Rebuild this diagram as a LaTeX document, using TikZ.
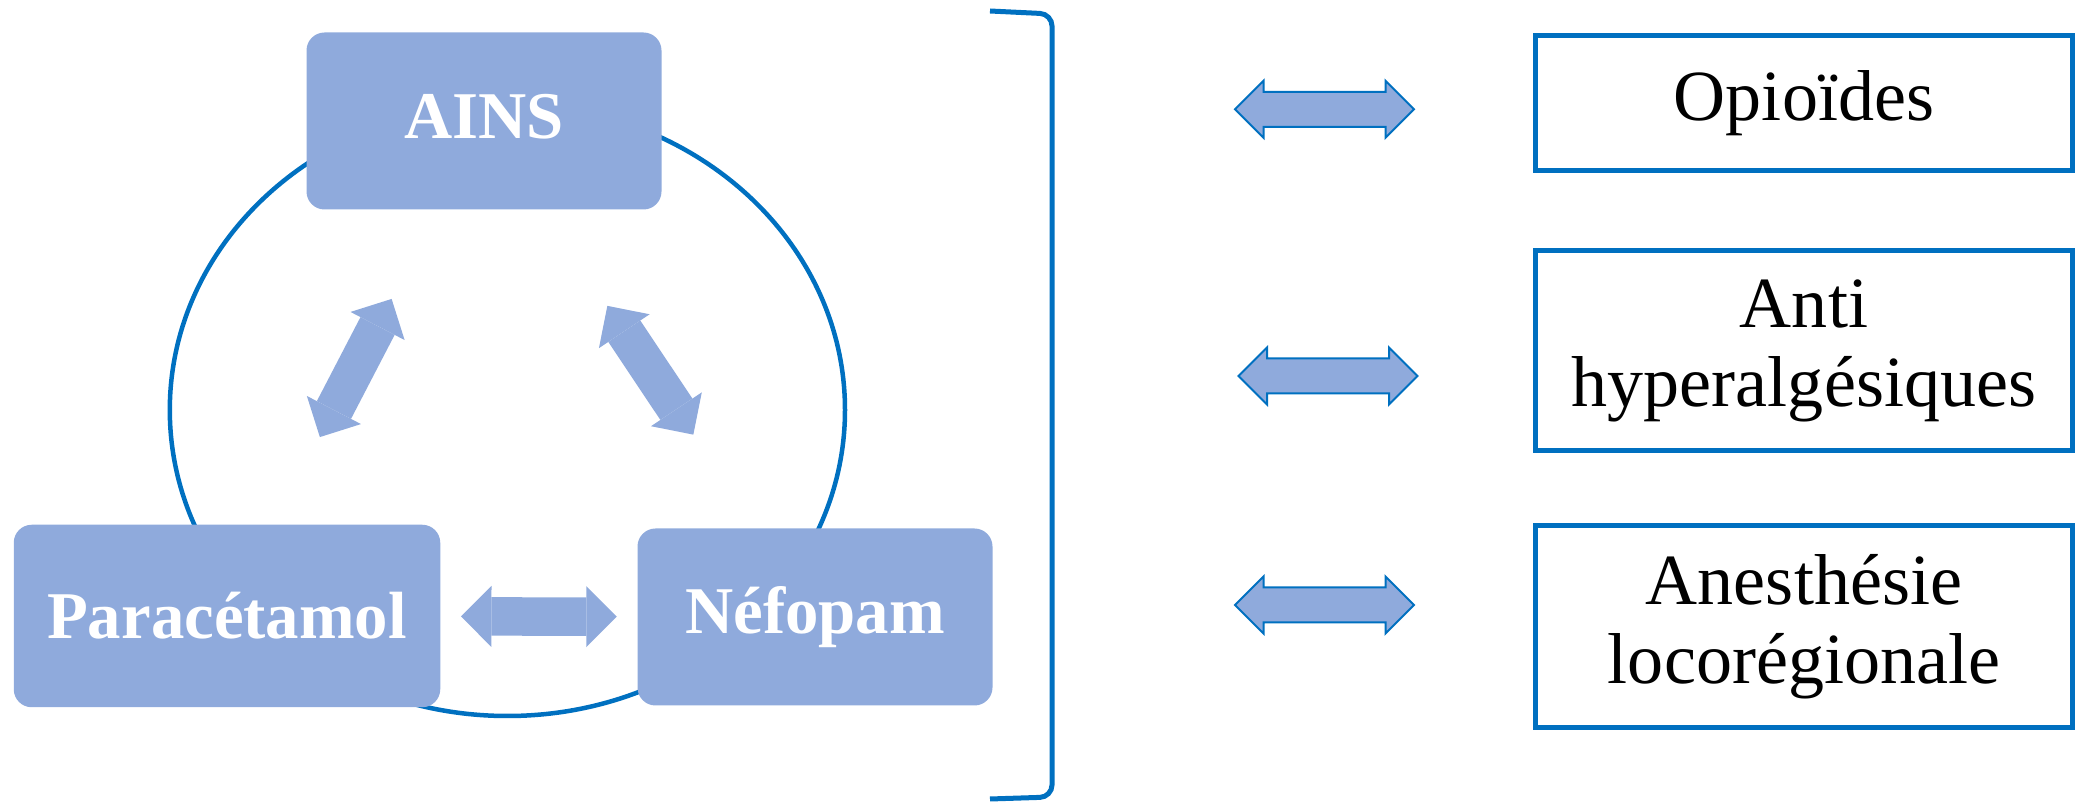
\documentclass[tikz,border=0pt]{standalone}
\usepackage{fontspec}
\setmainfont{Liberation Serif}
\newfontfamily\drugfont{Liberation Serif}
\usepackage{xcolor}
\usetikzlibrary{positioning, arrows.meta, shapes.arrows}
\definecolor{drugfill}{HTML}{8FAADC}
\definecolor{edgeblue}{HTML}{0070C0}

\begin{document}
\begin{tikzpicture}[
    drug/.style={rectangle, fill=drugfill, text=white, rounded corners=0.18cm,
                 minimum width=3.55cm, minimum height=1.77cm, align=center,
                 font=\drugfont\bfseries\fontsize{19}{22}\selectfont},
    adjuvant/.style={rectangle, draw=edgeblue, line width=0.05cm, fill=white,
                 minimum width=5.375cm, align=center,
                 font=\fontsize{20.5}{22.5}\selectfont},
    link/.style={drugfill, line width=0.385cm,
                 {Triangle[width=0.61cm, length=0.305cm, line width=0pt]}-{Triangle[width=0.61cm, length=0.305cm, line width=0pt]}},
    swap/.style={double arrow, draw=edgeblue, fill=drugfill, line width=0.02cm,
                 minimum height=1.79cm, inner xsep=0pt, inner ysep=0.165cm,
                 double arrow head extend=0.11cm, double arrow head indent=0pt},
    ring/.style={edgeblue, line width=0.045cm}
  ]
  \useasboundingbox (0,0) rectangle (20.8,8.02);

  % cycle of the three drugs
  \draw[ring] (5.074,3.92) ellipse [x radius=3.376, y radius=3.06];

  \node[drug, text depth=0.1cm] (ains) at (4.84,6.81) {AINS};
  \node[drug, minimum width=4.265cm, minimum height=1.825cm] (para) at (2.27,1.86) {Paracétamol};
  \node[drug] (nef) at (8.15,1.85) {Néfopam};

  \draw[link, shorten <=0.98cm, shorten >=1.0cm] (para) -- (ains);
  \draw[link, shorten <=1.15cm, shorten >=1.12cm] (ains) -- (nef);
  \draw[link, shorten <=0.2cm, shorten >=0.2cm] (para) -- (nef);

  % bracket
  \draw[edgeblue, line width=0.05cm, rounded corners=0.12cm]
    (9.90,7.91) -- (10.52,7.88) -- (10.52,0.05) -- (9.90,0.03);

  % adjuvants
  \node[adjuvant, minimum height=1.345cm] (opi) at (18.04,6.99) {Opioïdes};
  \node[adjuvant, minimum height=2.0cm] (anti) at (18.04,4.51) {Anti\\hyperalgésiques};
  \node[adjuvant, minimum height=2.02cm] (alr) at (18.04,1.755) {Anesthésie\\locorégionale};

  \node[swap] (swopi) at (13.245,6.927) {};
  \node[swap] (swanti) at (13.28,4.26) {};
  \node[swap] (swalr) at (13.245,1.97) {};
\end{tikzpicture}
\end{document}
